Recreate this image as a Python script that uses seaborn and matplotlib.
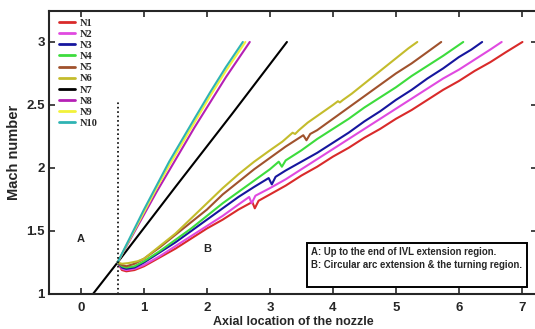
import numpy as np
import pandas as pd
import matplotlib
matplotlib.use('Agg')
import matplotlib.pyplot as plt
import matplotlib.patches as patches
import seaborn as sns

# curves (axial location, Mach number)
n1_x = [0.58, 0.65, 0.72, 0.85, 1.0, 1.25, 1.5, 1.75, 2.0, 2.25, 2.5, 2.72, 2.76, 2.82, 3.0, 3.25, 3.5,
        3.75, 4.0, 4.25, 4.5, 4.75, 5.0, 5.25, 5.5, 5.75, 6.0, 6.25, 6.5, 6.75, 7.01]
n1_y = [1.25, 1.19, 1.18, 1.19, 1.22, 1.29, 1.36, 1.44, 1.52, 1.59, 1.67, 1.73, 1.68, 1.74, 1.79, 1.86, 1.94,
        2.01, 2.09, 2.16, 2.24, 2.31, 2.39, 2.46, 2.54, 2.62, 2.69, 2.77, 2.84, 2.92, 3.00]

n2_x = [0.58, 0.65, 0.72, 0.85, 1.0, 1.25, 1.5, 1.75, 2.0, 2.25, 2.5, 2.67, 2.71, 2.77, 3.0, 3.25, 3.5,
        3.75, 4.0, 4.25, 4.5, 4.75, 5.0, 5.25, 5.5, 5.75, 6.0, 6.25, 6.5, 6.68]
n2_y = [1.25, 1.20, 1.19, 1.20, 1.23, 1.30, 1.38, 1.46, 1.54, 1.62, 1.71, 1.77, 1.72, 1.78, 1.84, 1.91, 1.99,
        2.07, 2.15, 2.23, 2.31, 2.39, 2.47, 2.55, 2.63, 2.71, 2.78, 2.86, 2.94, 3.00]

n3_x = [0.58, 0.65, 0.72, 0.85, 1.0, 1.25, 1.5, 1.75, 2.0, 2.25, 2.5, 2.75, 2.98, 3.03, 3.09, 3.25, 3.5,
        3.75, 4.0, 4.25, 4.5, 4.75, 5.0, 5.25, 5.5, 5.75, 6.0, 6.2, 6.37]
n3_y = [1.25, 1.21, 1.20, 1.21, 1.25, 1.33, 1.41, 1.50, 1.59, 1.68, 1.77, 1.85, 1.92, 1.87, 1.93, 1.98, 2.05,
        2.12, 2.20, 2.28, 2.37, 2.45, 2.54, 2.62, 2.71, 2.79, 2.88, 2.94, 3.00]

n4_x = [0.58, 0.65, 0.72, 0.85, 1.0, 1.25, 1.5, 1.75, 2.0, 2.25, 2.5, 2.75, 3.0, 3.14, 3.19, 3.25, 3.5,
        3.75, 4.0, 4.25, 4.5, 4.75, 5.0, 5.25, 5.5, 5.75, 6.07]
n4_y = [1.25, 1.22, 1.21, 1.22, 1.26, 1.34, 1.43, 1.52, 1.62, 1.72, 1.81, 1.90, 1.99, 2.05, 2.01, 2.06, 2.14,
        2.23, 2.31, 2.39, 2.48, 2.56, 2.64, 2.73, 2.81, 2.89, 3.00]

n5_x = [0.58, 0.65, 0.72, 0.85, 1.0, 1.25, 1.5, 1.75, 2.0, 2.25, 2.5, 2.75, 3.0, 3.25, 3.53, 3.58, 3.64,
        3.75, 4.0, 4.25, 4.5, 4.75, 5.0, 5.25, 5.5, 5.72]
n5_y = [1.25, 1.23, 1.22, 1.24, 1.28, 1.37, 1.47, 1.57, 1.67, 1.79, 1.89, 1.99, 2.08, 2.17, 2.26, 2.22, 2.27,
        2.30, 2.39, 2.48, 2.57, 2.66, 2.75, 2.83, 2.92, 3.00]

n6_x = [0.58, 0.65, 0.75, 0.9, 1.0, 1.25, 1.5, 1.75, 2.0, 2.25, 2.5, 2.75, 3.0, 3.2, 3.36, 3.40, 3.46,
        3.6, 3.8, 4.0, 4.08, 4.11, 4.16, 4.3, 4.5, 4.75, 5.0, 5.2, 5.34]
n6_y = [1.25, 1.24, 1.245, 1.26, 1.28, 1.38, 1.48, 1.60, 1.72, 1.84, 1.95, 2.05, 2.14, 2.21, 2.28, 2.27, 2.30,
        2.36, 2.43, 2.50, 2.53, 2.52, 2.54, 2.59, 2.67, 2.77, 2.87, 2.95, 3.00]

n7_x = [0.19, 0.58, 1.5, 2.4, 3.27]
n7_y = [1.00, 1.25, 1.85, 2.43, 3.00]

n8_x = [0.58, 0.8, 1.0, 1.2, 1.4, 1.6, 1.8, 2.05, 2.3, 2.68]
n8_y = [1.25, 1.45, 1.63, 1.81, 1.98, 2.15, 2.32, 2.52, 2.72, 3.00]

n9_x = [0.58, 0.8, 1.0, 1.2, 1.4, 1.6, 1.8, 2.05, 2.3, 2.61]
n9_y = [1.25, 1.46, 1.65, 1.84, 2.02, 2.19, 2.36, 2.57, 2.77, 3.00]

n10_x = [0.58, 0.8, 1.0, 1.2, 1.4, 1.6, 1.8, 2.05, 2.3, 2.57]
n10_y = [1.25, 1.47, 1.67, 1.86, 2.05, 2.22, 2.39, 2.60, 2.80, 3.00]

labels = ['N1', 'N2', 'N3', 'N4', 'N5', 'N6', 'N7', 'N8', 'N9', 'N10']
colores = ['#d92a2a', '#e04ae0', '#16169e', '#3ddc3d', '#a0522d', '#c4bc2c', '#000000',
           '#b520b5', '#f2f23a', '#2fb3b3']
xs = [n1_x, n2_x, n3_x, n4_x, n5_x, n6_x, n7_x, n8_x, n9_x, n10_x]
ys = [n1_y, n2_y, n3_y, n4_y, n5_y, n6_y, n7_y, n8_y, n9_y, n10_y]

x_ticks = [0, 1, 2, 3, 4, 5, 6, 7]
y_ticks = [1, 1.5, 2, 2.5, 3]
y_tick_labels = ['1', '1.5', '2', '2.5', '3']
linea_x = 0.58
linea_y = [1.0, 2.53]

frames = []
for lab, x, y in zip(labels, xs, ys):
    frames.append(pd.DataFrame({'x': x, 'y': y, 'curva': lab}))
df = pd.concat(frames, ignore_index=True)

sns.set_style('ticks')
plt.rcParams['font.family'] = ['Liberation Sans', 'DejaVu Sans']

fig = plt.figure(figsize=(5.35, 3.29), dpi=100)
ax = fig.add_axes([0.0916, 0.1064, 0.912, 0.8602])

sns.lineplot(data=df, x='x', y='y', hue='curva', palette=dict(zip(labels, colores)),
             sort=False, estimator=None, linewidth=1.5, ax=ax, legend=False)
ax.plot([linea_x, linea_x], linea_y, color='black', linestyle=':', linewidth=1.2)

ax.set_xlim(-0.508, 7.24)
ax.set_ylim(1, 3.246)
ax.set_xticks(x_ticks)
ax.set_yticks(y_ticks)
ax.set_yticklabels(y_tick_labels)
ax.tick_params(direction='in', length=4, width=1.2, top=True, right=True,
               labelsize=9.5, pad=3)
ax.tick_params(axis='x', pad=6)
for t in ax.get_xticklabels() + ax.get_yticklabels():
    t.set_fontweight('bold')
for s in ax.spines.values():
    s.set_linewidth(1.5)

ax.set_xlabel('Axial location of the nozzle', fontsize=9, fontweight='bold', labelpad=1)
ax.set_ylabel('Mach number', fontsize=10.5, fontweight='bold', labelpad=4)

handles = [plt.Line2D([], [], color=c, linewidth=2) for c in colores]
leg = ax.legend(handles, labels, loc='upper left', bbox_to_anchor=(0.005, 1.0), frameon=False,
                prop={'family': 'Liberation Serif', 'weight': 'bold', 'size': 7.5},
                handlelength=1.6, handletextpad=0.4, labelspacing=0.18, borderaxespad=0.3)

ax.text(0.0, 1.44, 'A', fontsize=8, fontweight='bold', ha='center', va='center')
ax.text(2.0, 1.36, 'B', fontsize=8, fontweight='bold', ha='center', va='center')

# caja de notas
ax.add_patch(patches.Rectangle((3.59, 1.056), 3.49, 0.349, facecolor='white',
                               edgecolor='black', linewidth=1.4, zorder=3))
ax.text(3.66, 1.333, 'A: Up to the end of IVL extension region.', fontsize=6.9,
        fontweight='bold', va='center', ha='left', zorder=4)
ax.text(3.66, 1.23, 'B: Circular arc extension & the turning region.', fontsize=6.9,
        fontweight='bold', va='center', ha='left', zorder=4)

fig.savefig('out.png', dpi=100)
